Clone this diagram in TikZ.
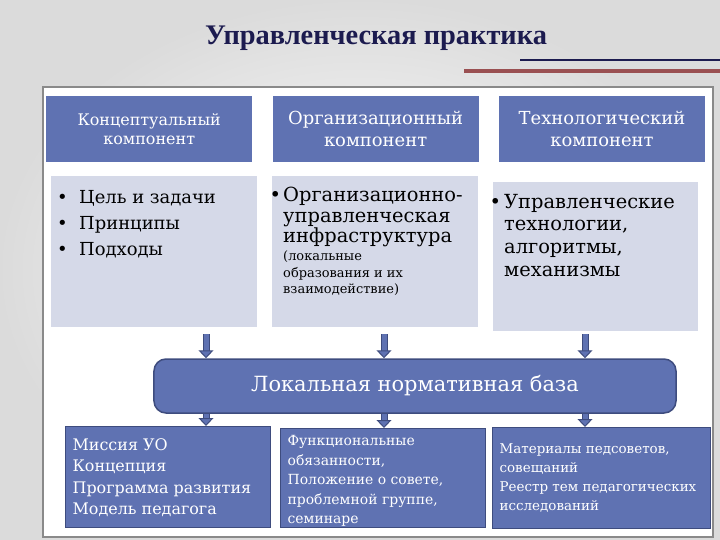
\documentclass[tikz,border=0pt]{standalone}
\usepackage{fontspec}
\setmainfont{DejaVu Serif}
\newfontfamily\titlefont{Liberation Serif}
\usetikzlibrary{arrows.meta, positioning}
\definecolor{hdblue}{HTML}{5F72B2}
\definecolor{edgeblue}{HTML}{3E4C7E}
\definecolor{bodygray}{HTML}{D5D9E8}
\definecolor{titlenavy}{HTML}{1C1B4F}
\definecolor{rulered}{HTML}{9A5052}
\definecolor{framegray}{HTML}{8A8A8A}
\newcommand{\pane}[3]{\parbox[t][#2][t]{#1}{\raggedright #3}}

\begin{document}
\begin{tikzpicture}[x=1bp, y=-1bp,
  head/.style={rectangle, fill=hdblue, text=white, minimum width=206bp, minimum height=66bp, inner sep=0pt, align=center},
  body/.style={rectangle, fill=bodygray, anchor=north west, inner xsep=6bp, inner ysep=8bp},
  leaf/.style={rectangle, fill=hdblue, draw=edgeblue, line width=1.2bp, text=white, anchor=north west, inner xsep=7bp, inner ysep=6bp},
  flow/.style={-{Triangle[length=8bp, width=15bp, fill=hdblue]}, draw=edgeblue, line width=1bp, double=hdblue, double distance=5bp}]

\useasboundingbox (0,0) rectangle (720,540);
\shade[inner color=white, outer color=black!14] (0,0) rectangle (720,540);

% title and rules
\node[font=\titlefont\bfseries\fontsize{28.5}{32}\selectfont, text=titlenavy] (title) at (376,38) {Управленческая практика};
\draw[titlenavy, line width=2bp] (520,60) -- (720,60);
\draw[rulered, line width=3.5bp] (464,71) -- (720,71);

\draw[framegray, line width=1.5bp, fill=white] (43,87) rectangle (713,537);

% three components
\node[head, anchor=north west, font=\fontsize{16}{19}\selectfont] (h1) at (46,96) {Концептуальный\\компонент};
\node[head, right=20bp of h1, font=\fontsize{18}{22}\selectfont] (h2) {Организационный\\компонент};
\node[head, right=20bp of h2, font=\fontsize{18}{22}\selectfont] (h3) {Технологический\\компонент};

\node[body, inner ysep=14bp, font=\fontsize{18}{26}\selectfont] (c1) at (51,176) {\pane{194bp}{123bp}{%
  \makebox[22bp][l]{\textbullet}Цель и задачи\\\makebox[22bp][l]{\textbullet}Принципы\\\makebox[22bp][l]{\textbullet}Подходы}};
\node[body, inner ysep=11bp] (c2) at (272,176) {\pane{194bp}{129bp}{%
  \fontsize{19.5}{20.5}\selectfont\leftskip=5bp\noindent\llap{\textbullet\hspace{2bp}}Организационно-\\управленческая\\инфраструктура\par
  \vspace{2bp}{\fontsize{13}{16.5}\selectfont (локальные\\образования и их\\взаимодействие)\par}}};
\node[body, inner xsep=3bp, inner ysep=12bp] (c3) at (493,182) {\pane{199bp}{125bp}{%
  \fontsize{19.5}{22.7}\selectfont\leftskip=8bp\noindent\llap{\textbullet\hspace{3bp}}Управленческие\\технологии,\\алгоритмы,\\механизмы}};

% normative base
\node[rectangle, rounded corners=12bp, fill=hdblue, draw=edgeblue, line width=1.5bp, text=white,
  minimum width=522bp, minimum height=54bp, font=\fontsize{21}{25}\selectfont] (base) at (415,386) {Локальная нормативная база};

% documents
\node[leaf, inner ysep=12bp, font=\fontsize{16}{21.5}\selectfont] (b1) at (65,426) {\pane{191bp}{77bp}{Миссия УО\\Концепция\\Программа развития\\Модель педагога}};
\node[leaf, inner ysep=7bp, font=\fontsize{14}{19.5}\selectfont] (b2) at (280,428) {\pane{191bp}{85bp}{Функциональные\\обязанности,\\Положение о совете,\\проблемной группе,\\семинаре}};
\node[leaf, inner ysep=16bp, font=\fontsize{13.5}{19}\selectfont] (b3) at (492,427) {\pane{204bp}{69bp}{Материалы педсоветов,\\совещаний\\Реестр тем педагогических\\исследований}};

% arrows
\coordinate (p1) at (206,334);
\coordinate (p2) at (384,334);
\coordinate (p3) at (585,334);
\draw[flow] (p1) -- (p1 |- base.north);
\draw[flow] (p2) -- (p2 |- base.north);
\draw[flow] (p3) -- (p3 |- base.north);
\draw[flow] (base.south -| p1) -- (b1.north -| p1);
\draw[flow] (base.south -| p2) -- (b2.north -| p2);
\draw[flow] (base.south -| p3) -- (b3.north -| p3);
\end{tikzpicture}
\end{document}
